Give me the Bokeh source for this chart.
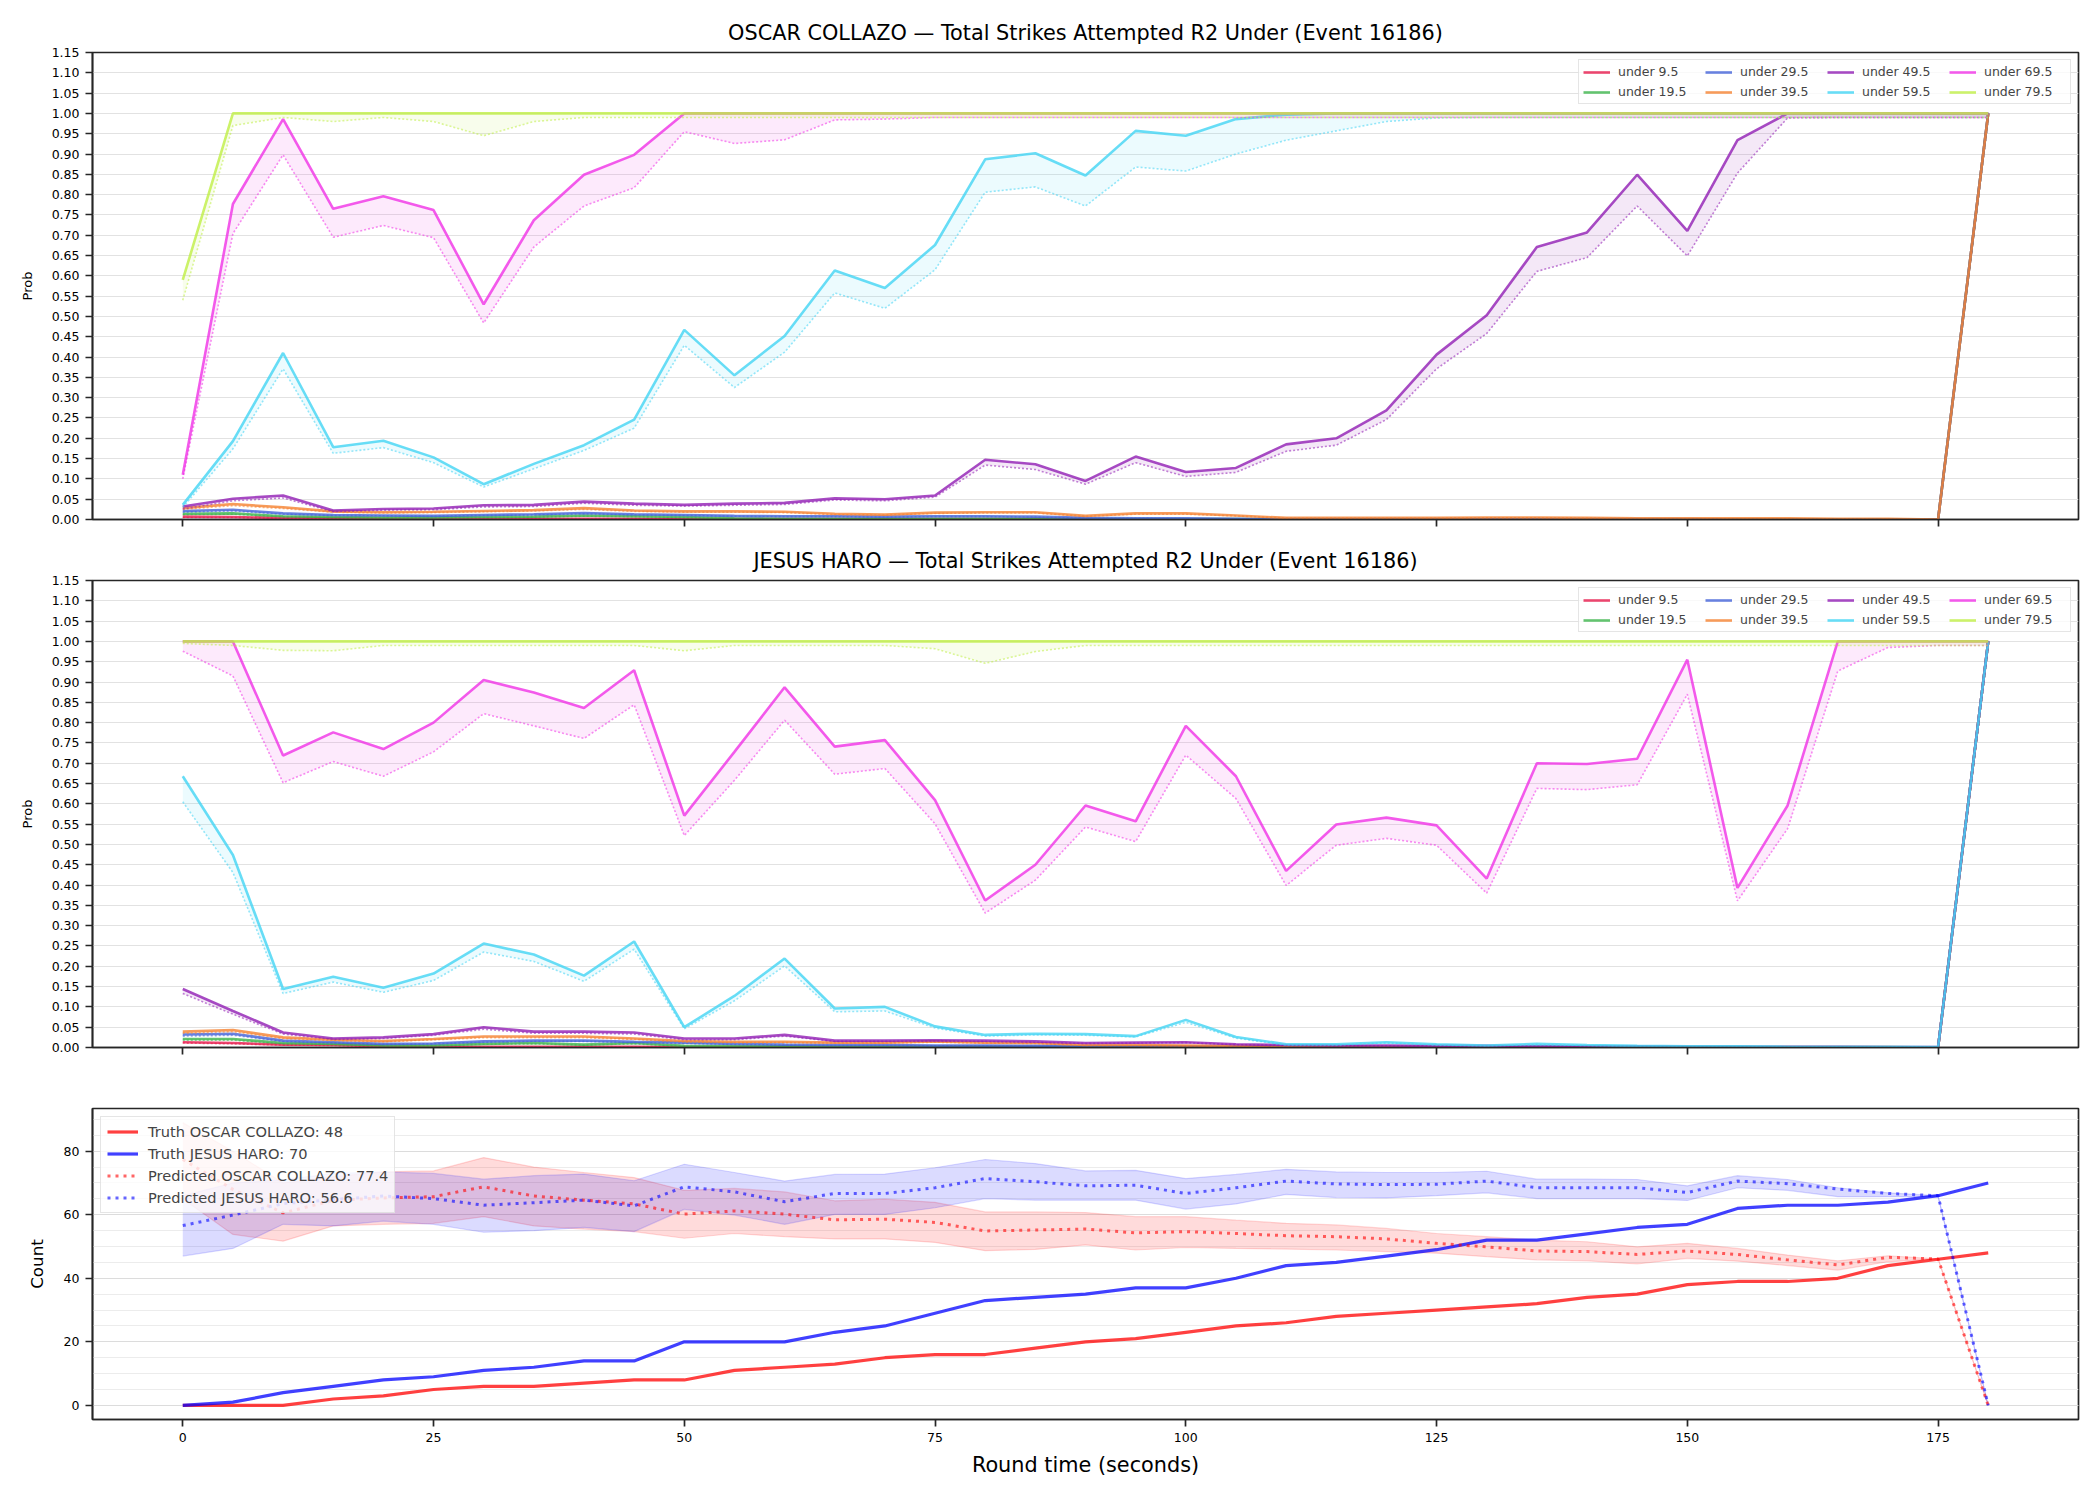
from bokeh.plotting import figure
from bokeh.models import Range1d, FixedTicker, PrintfTickFormatter
from bokeh.layouts import column
from bokeh.embed import file_html
from bokeh.resources import INLINE

FONT = "DejaVu Sans"

# ---------------- data ----------------
t = [0, 5, 10, 15, 20, 25, 30, 35, 40, 45,
     50, 55, 60, 65, 70, 75, 80, 85, 90, 95,
     100, 105, 110, 115, 120, 125, 130, 135, 140, 145,
     150, 155, 160, 165, 170, 175, 180]

x_ticks = [0, 25, 50, 75, 100, 125, 150, 175]
prob_ticks = [0.00, 0.05, 0.10, 0.15, 0.20, 0.25, 0.30, 0.35, 0.40, 0.45, 0.50, 0.55,
              0.60, 0.65, 0.70, 0.75, 0.80, 0.85, 0.90, 0.95, 1.00, 1.05, 1.10, 1.15]
count_ticks = [0, 20, 40, 60, 80]
count_minor = [0, 5, 10, 15, 20, 25, 30, 35, 40, 45, 50, 55, 60, 65, 70, 75, 80, 85, 90]

lines_labels = ["under 9.5", "under 19.5", "under 29.5", "under 39.5",
                "under 49.5", "under 59.5", "under 69.5", "under 79.5"]
line_colors = ["#e6194b", "#3cb44b", "#4363d8", "#f58231",
               "#911eb4", "#42d4f4", "#f032e6", "#bfef45"]

# OSCAR COLLAZO: solid (u) and dotted (l) curves per line
oc_u95 = [0.007, 0.006, 0.004, 0.003, 0.002, 0.002, 0.002, 0.002, 0.002, 0.002,
          0.001, 0.001, 0.001, 0.001, 0.001, 0.001, 0.001, 0.001, 0.001, 0.000,
          0.000, 0.000, 0.000, 0.000, 0.000, 0.000, 0.000, 0.000, 0.000, 0.000,
          0.000, 0.000, 0.000, 0.000, 0.000, 0.000, 1.000]
oc_l95 = [0.005, 0.005, 0.003, 0.002, 0.001, 0.001, 0.001, 0.001, 0.001, 0.001,
          0.001, 0.001, 0.001, 0.001, 0.001, 0.001, 0.001, 0.000, 0.000, 0.000,
          0.000, 0.000, 0.000, 0.000, 0.000, 0.000, 0.000, 0.000, 0.000, 0.000,
          0.000, 0.000, 0.000, 0.000, 0.000, 0.000, 0.990]
oc_u195 = [0.014, 0.015, 0.008, 0.006, 0.005, 0.005, 0.006, 0.007, 0.010, 0.008,
           0.006, 0.003, 0.002, 0.002, 0.002, 0.002, 0.002, 0.002, 0.001, 0.001,
           0.001, 0.001, 0.000, 0.000, 0.000, 0.000, 0.000, 0.000, 0.000, 0.000,
           0.000, 0.000, 0.000, 0.000, 0.000, 0.000, 1.000]
oc_l195 = [0.012, 0.013, 0.007, 0.005, 0.004, 0.004, 0.005, 0.006, 0.008, 0.007,
           0.005, 0.002, 0.002, 0.002, 0.001, 0.001, 0.001, 0.001, 0.001, 0.001,
           0.001, 0.000, 0.000, 0.000, 0.000, 0.000, 0.000, 0.000, 0.000, 0.000,
           0.000, 0.000, 0.000, 0.000, 0.000, 0.000, 0.990]
oc_u295 = [0.021, 0.024, 0.015, 0.011, 0.010, 0.009, 0.011, 0.013, 0.016, 0.013,
           0.011, 0.009, 0.008, 0.008, 0.007, 0.008, 0.008, 0.007, 0.004, 0.003,
           0.003, 0.002, 0.001, 0.001, 0.001, 0.001, 0.001, 0.001, 0.001, 0.001,
           0.001, 0.000, 0.000, 0.000, 0.000, 0.000, 1.000]
oc_l295 = [0.018, 0.021, 0.013, 0.010, 0.009, 0.008, 0.010, 0.011, 0.014, 0.011,
           0.010, 0.008, 0.007, 0.007, 0.006, 0.007, 0.007, 0.006, 0.003, 0.003,
           0.002, 0.002, 0.001, 0.001, 0.001, 0.001, 0.001, 0.001, 0.001, 0.001,
           0.000, 0.000, 0.000, 0.000, 0.000, 0.000, 0.990]
oc_u395 = [0.028, 0.038, 0.030, 0.020, 0.018, 0.019, 0.021, 0.023, 0.028, 0.022,
           0.020, 0.020, 0.019, 0.014, 0.012, 0.017, 0.018, 0.018, 0.009, 0.015,
           0.015, 0.010, 0.004, 0.004, 0.004, 0.004, 0.005, 0.005, 0.004, 0.003,
           0.003, 0.003, 0.003, 0.002, 0.002, 0.000, 1.000]
oc_l395 = [0.025, 0.034, 0.027, 0.018, 0.016, 0.017, 0.019, 0.021, 0.025, 0.020,
           0.018, 0.018, 0.017, 0.012, 0.011, 0.015, 0.016, 0.016, 0.008, 0.013,
           0.013, 0.009, 0.003, 0.003, 0.003, 0.003, 0.004, 0.004, 0.003, 0.002,
           0.002, 0.002, 0.002, 0.002, 0.001, 0.000, 0.990]
oc_u495 = [0.032, 0.051, 0.059, 0.022, 0.026, 0.027, 0.035, 0.036, 0.044, 0.039,
           0.036, 0.039, 0.041, 0.052, 0.050, 0.059, 0.147, 0.136, 0.095, 0.155,
           0.117, 0.127, 0.185, 0.200, 0.269, 0.406, 0.503, 0.671, 0.707, 0.849,
           0.711, 0.934, 1.000, 1.000, 1.000, 1.000, 1.000]
oc_l495 = [0.026, 0.046, 0.053, 0.019, 0.023, 0.024, 0.031, 0.032, 0.040, 0.035,
           0.033, 0.035, 0.037, 0.048, 0.046, 0.055, 0.134, 0.123, 0.087, 0.140,
           0.106, 0.116, 0.168, 0.183, 0.246, 0.371, 0.458, 0.611, 0.645, 0.772,
           0.649, 0.853, 0.989, 0.990, 0.990, 0.990, 0.990]
oc_u595 = [0.036, 0.193, 0.410, 0.178, 0.194, 0.153, 0.087, 0.137, 0.183, 0.246,
           0.467, 0.355, 0.452, 0.613, 0.570, 0.676, 0.887, 0.902, 0.847, 0.957,
           0.945, 0.986, 0.997, 1.000, 1.000, 1.000, 1.000, 1.000, 1.000, 1.000,
           1.000, 1.000, 1.000, 1.000, 1.000, 1.000, 1.000]
oc_l595 = [0.030, 0.174, 0.371, 0.163, 0.177, 0.140, 0.080, 0.125, 0.170, 0.225,
           0.429, 0.325, 0.412, 0.558, 0.520, 0.615, 0.806, 0.819, 0.772, 0.868,
           0.858, 0.900, 0.934, 0.957, 0.980, 0.989, 0.990, 0.990, 0.990, 0.990,
           0.990, 0.990, 0.990, 0.990, 0.990, 0.990, 0.990]
oc_u695 = [0.110, 0.777, 0.986, 0.765, 0.796, 0.762, 0.530, 0.737, 0.849, 0.898,
           1.000, 1.000, 1.000, 1.000, 1.000, 1.000, 1.000, 1.000, 1.000, 1.000,
           1.000, 1.000, 1.000, 1.000, 1.000, 1.000, 1.000, 1.000, 1.000, 1.000,
           1.000, 1.000, 1.000, 1.000, 1.000, 1.000, 1.000]
oc_l695 = [0.100, 0.704, 0.898, 0.695, 0.724, 0.694, 0.484, 0.671, 0.772, 0.817,
           0.955, 0.926, 0.935, 0.984, 0.986, 0.990, 0.990, 0.990, 0.990, 0.990,
           0.990, 0.990, 0.990, 0.990, 0.990, 0.990, 0.990, 0.990, 0.990, 0.990,
           0.990, 0.990, 0.990, 0.990, 0.990, 0.990, 0.990]
oc_u795 = [0.590, 1.000, 1.000, 1.000, 1.000, 1.000, 1.000, 1.000, 1.000, 1.000,
           1.000, 1.000, 1.000, 1.000, 1.000, 1.000, 1.000, 1.000, 1.000, 1.000,
           1.000, 1.000, 1.000, 1.000, 1.000, 1.000, 1.000, 1.000, 1.000, 1.000,
           1.000, 1.000, 1.000, 1.000, 1.000, 1.000, 1.000]
oc_l795 = [0.540, 0.970, 0.990, 0.980, 0.990, 0.980, 0.945, 0.980, 0.990, 0.990,
           0.990, 0.990, 0.990, 0.990, 0.990, 0.990, 0.990, 0.990, 0.990, 0.990,
           0.990, 0.990, 0.990, 0.990, 0.990, 0.990, 0.990, 0.990, 0.990, 0.990,
           0.990, 0.990, 0.990, 0.990, 0.990, 0.990, 0.990]

# JESUS HARO
jh_u95 = [0.013, 0.011, 0.007, 0.006, 0.003, 0.002, 0.002, 0.002, 0.002, 0.002,
          0.001, 0.001, 0.001, 0.001, 0.001, 0.001, 0.001, 0.001, 0.001, 0.000,
          0.000, 0.000, 0.000, 0.000, 0.000, 0.000, 0.000, 0.000, 0.000, 0.000,
          0.000, 0.000, 0.000, 0.000, 0.000, 0.000, 1.000]
jh_l95 = [0.011, 0.009, 0.006, 0.005, 0.002, 0.002, 0.001, 0.001, 0.001, 0.001,
          0.001, 0.001, 0.001, 0.000, 0.000, 0.000, 0.000, 0.000, 0.000, 0.000,
          0.000, 0.000, 0.000, 0.000, 0.000, 0.000, 0.000, 0.000, 0.000, 0.000,
          0.000, 0.000, 0.000, 0.000, 0.000, 0.000, 0.990]
jh_u195 = [0.021, 0.021, 0.011, 0.009, 0.005, 0.005, 0.009, 0.011, 0.007, 0.011,
           0.004, 0.003, 0.003, 0.002, 0.002, 0.002, 0.002, 0.002, 0.001, 0.001,
           0.001, 0.001, 0.000, 0.000, 0.000, 0.000, 0.000, 0.000, 0.000, 0.000,
           0.000, 0.000, 0.000, 0.000, 0.000, 0.000, 1.000]
jh_l195 = [0.018, 0.018, 0.009, 0.008, 0.004, 0.004, 0.008, 0.009, 0.006, 0.009,
           0.003, 0.003, 0.002, 0.002, 0.002, 0.002, 0.001, 0.001, 0.001, 0.001,
           0.001, 0.000, 0.000, 0.000, 0.000, 0.000, 0.000, 0.000, 0.000, 0.000,
           0.000, 0.000, 0.000, 0.000, 0.000, 0.000, 0.990]
jh_u295 = [0.032, 0.034, 0.017, 0.013, 0.009, 0.010, 0.015, 0.017, 0.017, 0.014,
           0.012, 0.009, 0.007, 0.006, 0.006, 0.005, 0.005, 0.004, 0.003, 0.003,
           0.003, 0.002, 0.002, 0.002, 0.001, 0.001, 0.001, 0.001, 0.001, 0.001,
           0.001, 0.001, 0.000, 0.000, 0.000, 0.000, 1.000]
jh_l295 = [0.028, 0.030, 0.015, 0.011, 0.008, 0.009, 0.013, 0.015, 0.015, 0.012,
           0.010, 0.008, 0.006, 0.005, 0.005, 0.004, 0.004, 0.003, 0.003, 0.002,
           0.002, 0.002, 0.001, 0.001, 0.001, 0.001, 0.001, 0.001, 0.001, 0.001,
           0.000, 0.000, 0.000, 0.000, 0.000, 0.000, 0.990]
jh_u395 = [0.039, 0.043, 0.025, 0.019, 0.016, 0.021, 0.027, 0.027, 0.027, 0.022,
           0.016, 0.014, 0.014, 0.012, 0.012, 0.015, 0.012, 0.011, 0.006, 0.006,
           0.005, 0.004, 0.003, 0.003, 0.002, 0.002, 0.002, 0.002, 0.001, 0.001,
           0.001, 0.001, 0.001, 0.001, 0.001, 0.000, 1.000]
jh_l395 = [0.035, 0.039, 0.022, 0.017, 0.014, 0.019, 0.024, 0.024, 0.024, 0.020,
           0.014, 0.012, 0.012, 0.011, 0.011, 0.013, 0.011, 0.010, 0.005, 0.005,
           0.004, 0.003, 0.003, 0.002, 0.002, 0.002, 0.001, 0.001, 0.001, 0.001,
           0.001, 0.001, 0.001, 0.001, 0.000, 0.000, 0.990]
jh_u495 = [0.144, 0.090, 0.037, 0.022, 0.025, 0.033, 0.050, 0.039, 0.039, 0.037,
           0.022, 0.022, 0.031, 0.017, 0.017, 0.018, 0.017, 0.015, 0.011, 0.012,
           0.013, 0.008, 0.006, 0.005, 0.005, 0.004, 0.004, 0.003, 0.003, 0.003,
           0.002, 0.002, 0.002, 0.002, 0.001, 0.001, 1.000]
jh_l495 = [0.133, 0.082, 0.033, 0.020, 0.022, 0.030, 0.045, 0.035, 0.035, 0.033,
           0.019, 0.019, 0.028, 0.015, 0.015, 0.016, 0.015, 0.013, 0.010, 0.011,
           0.012, 0.007, 0.005, 0.004, 0.004, 0.003, 0.003, 0.003, 0.002, 0.002,
           0.002, 0.002, 0.001, 0.001, 0.001, 0.001, 0.990]
jh_u595 = [0.668, 0.474, 0.144, 0.174, 0.147, 0.182, 0.256, 0.229, 0.177, 0.261,
           0.050, 0.127, 0.219, 0.096, 0.100, 0.052, 0.031, 0.034, 0.033, 0.028,
           0.068, 0.026, 0.008, 0.008, 0.013, 0.008, 0.005, 0.009, 0.006, 0.004,
           0.003, 0.003, 0.002, 0.002, 0.002, 0.001, 1.000]
jh_l595 = [0.605, 0.431, 0.133, 0.161, 0.136, 0.165, 0.235, 0.212, 0.163, 0.242,
           0.046, 0.115, 0.201, 0.088, 0.090, 0.048, 0.028, 0.031, 0.030, 0.026,
           0.062, 0.023, 0.006, 0.006, 0.011, 0.006, 0.004, 0.007, 0.005, 0.003,
           0.002, 0.002, 0.001, 0.001, 0.001, 0.001, 0.990]
jh_u695 = [1.000, 1.000, 0.719, 0.776, 0.735, 0.800, 0.905, 0.874, 0.836, 0.929,
           0.571, 0.728, 0.887, 0.741, 0.757, 0.609, 0.362, 0.450, 0.596, 0.557,
           0.792, 0.668, 0.435, 0.549, 0.566, 0.547, 0.416, 0.700, 0.698, 0.711,
           0.955, 0.393, 0.596, 1.000, 1.000, 1.000, 1.000]
jh_l695 = [0.976, 0.915, 0.652, 0.704, 0.668, 0.728, 0.822, 0.792, 0.761, 0.844,
           0.522, 0.658, 0.806, 0.673, 0.687, 0.551, 0.331, 0.412, 0.543, 0.507,
           0.720, 0.613, 0.399, 0.498, 0.515, 0.498, 0.380, 0.638, 0.635, 0.647,
           0.870, 0.361, 0.539, 0.927, 0.985, 0.990, 0.990]
jh_u795 = [1.000, 1.000, 1.000, 1.000, 1.000, 1.000, 1.000, 1.000, 1.000, 1.000,
           1.000, 1.000, 1.000, 1.000, 1.000, 1.000, 1.000, 1.000, 1.000, 1.000,
           1.000, 1.000, 1.000, 1.000, 1.000, 1.000, 1.000, 1.000, 1.000, 1.000,
           1.000, 1.000, 1.000, 1.000, 1.000, 1.000, 1.000]
jh_l795 = [0.995, 0.990, 0.978, 0.977, 0.990, 0.990, 0.990, 0.990, 0.990, 0.990,
           0.977, 0.990, 0.990, 0.990, 0.990, 0.982, 0.946, 0.975, 0.990, 0.990,
           0.990, 0.990, 0.990, 0.990, 0.990, 0.990, 0.990, 0.990, 0.990, 0.990,
           0.990, 0.990, 0.990, 0.990, 0.990, 0.990, 0.990]

# Count panel
truth_oscar = [0, 0, 0, 2, 3, 5, 6, 6, 7, 8,
               8, 11, 12, 13, 15, 16, 16, 18, 20, 21,
               23, 25, 26, 28, 29, 30, 31, 32, 34, 35,
               38, 39, 39, 40, 44, 46, 48]
truth_haro = [0, 1, 4, 6, 8, 9, 11, 12, 14, 14,
              20, 20, 20, 23, 25, 29, 33, 34, 35, 37,
              37, 40, 44, 45, 47, 49, 52, 52, 54, 56,
              57, 62, 63, 63, 64, 66, 70]
pred_oscar = [77.4, 68.0, 60.6, 64.5, 65.3, 65.7, 68.8, 65.9, 64.6, 63.4,
              60.2, 61.2, 60.2, 58.4, 58.6, 57.6, 54.9, 55.2, 55.5, 54.3,
              54.7, 54.1, 53.4, 53.1, 52.4, 51.0, 49.9, 48.6, 48.4, 47.5,
              48.6, 47.5, 45.8, 44.2, 46.6, 46.1, 0.0]
pred_oscar_lo = [65.0, 53.8, 51.7, 56.5, 57.0, 57.3, 59.4, 56.5, 55.5, 54.7,
                 52.6, 54.1, 53.1, 52.4, 52.4, 51.3, 48.7, 49.1, 50.5, 48.9,
                 49.7, 49.4, 49.2, 48.9, 48.4, 47.9, 46.8, 45.8, 45.5, 44.5,
                 46.3, 45.4, 44.0, 42.6, 45.2, 46.1, 0.0]
pred_oscar_hi = [89.0, 80.0, 70.0, 72.0, 73.5, 73.8, 78.0, 75.0, 73.3, 71.7,
                 67.7, 68.3, 67.2, 64.4, 64.9, 63.9, 60.9, 60.9, 60.7, 59.4,
                 59.4, 58.3, 57.3, 56.8, 55.7, 54.1, 53.1, 52.0, 51.5, 49.9,
                 51.0, 49.4, 47.3, 45.5, 47.1, 46.1, 0.0]
pred_haro = [56.6, 59.9, 63.5, 64.8, 65.9, 65.1, 63.0, 63.8, 64.6, 62.8,
             68.8, 67.2, 64.1, 66.7, 66.7, 68.5, 71.4, 70.4, 69.1, 69.3,
             66.7, 68.5, 70.6, 69.7, 69.5, 69.6, 70.6, 68.5, 68.5, 68.5,
             67.0, 70.6, 69.8, 68.1, 66.7, 66.0, 0.0]
pred_haro_lo = [47.0, 49.4, 57.0, 56.5, 58.0, 57.0, 54.5, 55.0, 56.0, 54.7,
                61.7, 59.9, 57.0, 60.1, 60.1, 62.2, 65.1, 64.6, 64.6, 64.6,
                61.8, 63.4, 66.4, 65.4, 65.3, 66.0, 66.9, 65.1, 65.1, 65.1,
                64.5, 68.5, 67.7, 65.7, 65.7, 65.7, 0.0]
pred_haro_hi = [66.0, 70.0, 71.0, 73.0, 73.5, 73.0, 71.2, 72.3, 72.8, 70.7,
                75.9, 73.3, 70.6, 72.7, 72.8, 74.8, 77.4, 76.1, 73.8, 74.0,
                71.4, 72.7, 74.3, 73.5, 73.3, 73.3, 73.7, 71.2, 71.2, 71.1,
                69.1, 72.3, 71.1, 68.5, 66.9, 66.0, 0.0]

oscar_solid = [oc_u95, oc_u195, oc_u295, oc_u395, oc_u495, oc_u595, oc_u695, oc_u795]
oscar_dot = [oc_l95, oc_l195, oc_l295, oc_l395, oc_l495, oc_l595, oc_l695, oc_l795]
haro_solid = [jh_u95, jh_u195, jh_u295, jh_u395, jh_u495, jh_u595, jh_u695, jh_u795]
haro_dot = [jh_l95, jh_l195, jh_l295, jh_l395, jh_l495, jh_l595, jh_l695, jh_l795]

DARK = "#262626"


def base_fig(height, top, bottom, y_range, show_xlabels):
    p = figure(width=2100, height=height, x_range=Range1d(-9, 189), y_range=y_range,
               output_backend="svg", toolbar_location=None,
               min_border_left=92, min_border_right=22,
               min_border_top=top, min_border_bottom=bottom,
               background_fill_color="white", border_fill_color="white")
    p.outline_line_color = DARK
    p.outline_line_width = 1.7
    p.outline_line_alpha = 1.0
    for ax in (p.xaxis[0], p.yaxis[0]):
        ax.axis_line_color = DARK
        ax.axis_line_width = 1.7
        ax.major_tick_line_color = DARK
        ax.major_tick_line_width = 1.7
        ax.major_tick_out = 7
        ax.major_tick_in = 0
        ax.minor_tick_line_color = None
        ax.major_label_text_font = FONT
        ax.major_label_text_font_size = "12.5px"
        ax.major_label_text_color = "black"
        ax.major_label_standoff = 6
        ax.axis_label_text_font = FONT
        ax.axis_label_text_font_style = "normal"
        ax.axis_label_text_color = "black"
    p.xaxis[0].ticker = FixedTicker(ticks=x_ticks)
    p.xgrid.visible = False
    if not show_xlabels:
        p.xaxis[0].major_label_overrides = {tk: "" for tk in x_ticks}
        p.xaxis[0].major_label_standoff = 0
    return p


def prob_fig(title, solids, dots, height, top, bottom):
    p = base_fig(height, top, bottom, Range1d(0, 1.15), False)
    p.title.text = title
    p.title.align = "center"
    p.title.text_font = FONT
    p.title.text_font_size = "20.8px"
    p.title.text_font_style = "normal"
    p.title.text_color = "black"
    p.title.standoff = 16
    yt = FixedTicker(ticks=prob_ticks)
    p.yaxis[0].ticker = yt
    p.yaxis[0].formatter = PrintfTickFormatter(format="%.2f")
    p.yaxis[0].axis_label = "Prob"
    p.yaxis[0].axis_label_text_font_size = "13px"
    p.yaxis[0].axis_label_standoff = 14
    p.ygrid.ticker = yt
    p.ygrid.grid_line_color = "#e2e2e2"
    p.ygrid.grid_line_width = 1.2
    for lab, col, su, sd in zip(lines_labels, line_colors, solids, dots):
        p.varea(x=t, y1=sd, y2=su, fill_color=col, fill_alpha=0.1)
        p.line(t, su, line_color=col, line_width=2.6, line_alpha=0.8, legend_label=lab)
        p.line(t, sd, line_color=col, line_width=1.6, line_alpha=0.55, line_dash="2 2")
    leg = p.legend[0]
    leg.location = "top_right"
    leg.orientation = "vertical"
    leg.nrows = 2
    leg.label_text_font = FONT
    leg.label_text_font_size = "12.5px"
    leg.glyph_width = 27
    leg.glyph_height = 14
    leg.label_height = 14
    leg.label_width = 82
    leg.label_standoff = 8
    leg.spacing = 5
    leg.padding = 4
    leg.margin = 7
    leg.border_line_color = "#cccccc"
    leg.border_line_width = 1.5
    leg.background_fill_alpha = 0.8
    return p


p1 = prob_fig("OSCAR COLLAZO \u2014 Total Strikes Attempted R2 Under (Event 16186)",
              oscar_solid, oscar_dot, 536, 52, 17)
p2 = prob_fig("JESUS HARO \u2014 Total Strikes Attempted R2 Under (Event 16186)",
              haro_solid, haro_dot, 528, 44, 17)

# ---------------- count panel ----------------
p3 = base_fig(436, 44, 81, Range1d(-4.45, 93.45), True)
ct = FixedTicker(ticks=count_ticks, minor_ticks=count_minor)
p3.yaxis[0].ticker = ct
p3.yaxis[0].axis_label = "Count"
p3.yaxis[0].axis_label_text_font_size = "16.7px"
p3.yaxis[0].axis_label_standoff = 14
p3.xaxis[0].axis_label = "Round time (seconds)"
p3.xaxis[0].axis_label_text_font_size = "20.8px"
p3.xaxis[0].axis_label_standoff = 8
p3.ygrid.ticker = ct
p3.ygrid.grid_line_color = "#dcdcdc"
p3.ygrid.grid_line_width = 1.2
p3.ygrid.minor_grid_line_color = "#ececec"
p3.ygrid.minor_grid_line_width = 1.0

RED = "#ff0000"
BLUE = "#0000ff"
p3.varea(x=t, y1=pred_oscar_lo, y2=pred_oscar_hi, fill_color=RED, fill_alpha=0.14)
p3.line(t, pred_oscar_lo, line_color=RED, line_alpha=0.15, line_width=1.2)
p3.line(t, pred_oscar_hi, line_color=RED, line_alpha=0.15, line_width=1.2)
p3.varea(x=t, y1=pred_haro_lo, y2=pred_haro_hi, fill_color=BLUE, fill_alpha=0.14)
p3.line(t, pred_haro_lo, line_color=BLUE, line_alpha=0.15, line_width=1.2)
p3.line(t, pred_haro_hi, line_color=BLUE, line_alpha=0.15, line_width=1.2)

p3.line(t, truth_oscar, line_color=RED, line_alpha=0.75, line_width=3.2,
        legend_label="Truth OSCAR COLLAZO: 48")
p3.line(t, truth_haro, line_color=BLUE, line_alpha=0.75, line_width=3.2,
        legend_label="Truth JESUS HARO: 70")
p3.line(t, pred_oscar, line_color=RED, line_alpha=0.6, line_width=3.0, line_dash="3 5",
        legend_label="Predicted OSCAR COLLAZO: 77.4")
p3.line(t, pred_haro, line_color=BLUE, line_alpha=0.6, line_width=3.0, line_dash="3 5",
        legend_label="Predicted JESUS HARO: 56.6")

leg3 = p3.legend[0]
leg3.location = "top_left"
leg3.label_text_font = FONT
leg3.label_text_font_size = "14.6px"
leg3.glyph_width = 31
leg3.glyph_height = 17
leg3.label_height = 17
leg3.label_standoff = 10
leg3.spacing = 5
leg3.padding = 6
leg3.margin = 8
leg3.border_line_color = "#cccccc"
leg3.border_line_width = 1.5
leg3.background_fill_alpha = 0.8

layout = column(p1, p2, p3, spacing=0)
open("out.html", "w").write(file_html(layout, INLINE))
